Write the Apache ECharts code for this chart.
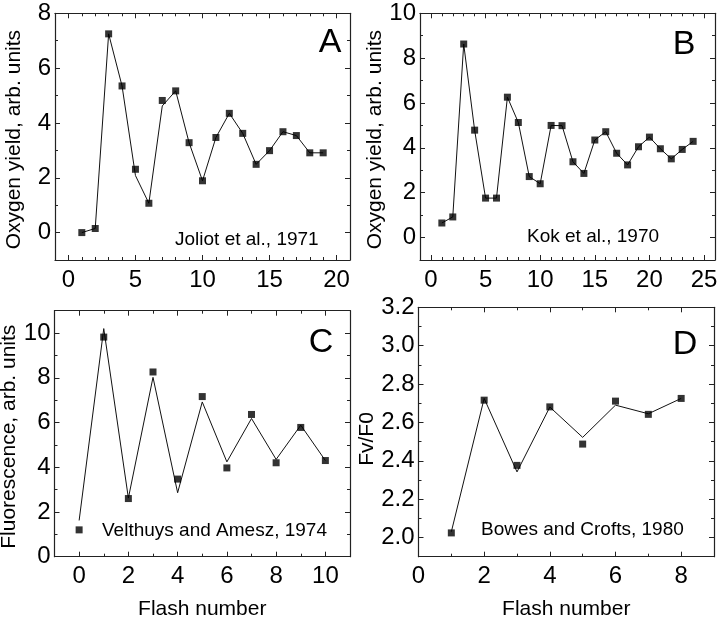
<!DOCTYPE html>
<html>
<head>
<meta charset="utf-8">
<script src="https://cdn.jsdelivr.net/npm/echarts@6/dist/echarts.min.js"></script>
<style>
html,body{margin:0;padding:0;background:#fff;}
#chart{width:720px;height:619px;}
</style>
</head>
<body>
<div id="chart"></div>
<script>
// ---------- Data ----------
const flashA = [1,2,3,4,5,6,7,8,9,10,11,12,13,14,15,16,17,18,19];
const markersA = [0.0,0.15,7.25,5.35,2.31,1.07,4.82,5.17,3.28,1.89,3.47,4.35,3.62,2.49,2.99,3.68,3.54,2.91,2.91];
const lineA = [0.0,0.15,7.25,5.35,2.08,1.07,4.62,5.17,3.28,1.89,3.47,4.35,3.62,2.49,2.99,3.68,3.54,2.91,2.91];

const flashB = [1,2,3,4,5,6,7,8,9,10,11,12,13,14,15,16,17,18,19,20,21,22,23,24];
const markersB = [0.65,0.92,8.63,4.79,1.76,1.76,6.26,5.13,2.72,2.40,5.0,4.99,3.38,2.86,4.35,4.72,3.76,3.24,4.05,4.48,3.96,3.51,3.93,4.29];
const lineB = markersB.slice();

const flashC = [0,1,2,3,4,5,6,7,8,9,10];
const markersC = [1.2,9.82,2.6,8.26,3.47,7.16,3.97,6.36,4.2,5.78,4.3];
const fitC = [1.62,10.2,2.62,8.02,2.86,6.92,4.24,6.18,4.35,5.88,4.3];

const flashD = [1,2,3,4,5,6,7,8];
const markersD = [2.024,2.716,2.376,2.681,2.487,2.711,2.642,2.725];
const fitD = [2.03,2.725,2.342,2.68,2.522,2.69,2.645,2.725];

const panelLetters = ['A','B','C','D'];
const refs = ['Joliot et al., 1971','Kok et al., 1970','Velthuys and Amesz, 1974','Bowes and Crofts, 1980'];
const yTitles = ['Oxygen yield, arb. units','Oxygen yield, arb. units','Fluorescence, arb. units','Fv/F0'];
const xTitle = 'Flash number';

// ---------- Layout ----------
const FONT = '"Liberation Sans", Arial, Helvetica, sans-serif';
const grids = [
  {left:55, top:13.3, width:295, height:246.7},
  {left:420, top:13.3, width:295, height:246.7},
  {left:54.5, top:310.7, width:295.5, height:246},
  {left:418.5, top:307.3, width:295.5, height:249.4}
];
const xRanges = [[-1,21,5],[-1,26,5],[-1,11,2],[0,9,2]];
const yRanges = [[-1,8,2,5],[-1,10,2,5],[0,11,2,5],[1.9,3.2,0.2,6]];
const xMinorSplit = [5,5,2,2];
const yMinorSplit = [2,2,2,2];
const yTitlePad = [6,6,6,14];

const xAxes = [], yAxes = [], series = [], graphics = [];
const lineStyleAxis = {color:'#222', width:1.2};

for (let i = 0; i < 4; i++) {
  const [xmin,xmax,xstep] = xRanges[i];
  const [ymin,ymax,ystep,ysplit] = yRanges[i];
  const common = {
    type:'value', gridIndex:i, splitLine:{show:false},
    axisLine:{show:true, onZero:false, lineStyle:lineStyleAxis},
    axisTick:{show:true, inside:true, length:5, lineStyle:{color:'#222', width:1}},
    minorTick:{show:true, length:3, lineStyle:{color:'#222', width:1}}
  };
  xAxes.push(Object.assign({}, common, {
    min:xmin, max:xmax, splitNumber:5, position:'bottom',
    minorTick:Object.assign({}, common.minorTick, {splitNumber:xMinorSplit[i]}),
    axisLabel:{show:true, color:'#000', fontSize:24, fontFamily:FONT, margin:8,
      formatter:function(v){ return (Math.abs(v % xstep) < 1e-9 && v >= 0) ? String(v) : ''; }},
    name: i >= 2 ? xTitle : '', nameLocation:'middle', nameGap:42,
    nameTextStyle:{color:'#000', fontSize:21, fontFamily:FONT}
  }));
  xAxes.push(Object.assign({}, common, {
    min:xmin, max:xmax, splitNumber:5, position:'top',
    minorTick:Object.assign({}, common.minorTick, {splitNumber:xMinorSplit[i]}),
    axisLabel:{show:false}
  }));
  yAxes.push(Object.assign({}, common, {
    min:ymin, max:ymax, splitNumber:ysplit, position:'left',
    minorTick:Object.assign({}, common.minorTick, {splitNumber:yMinorSplit[i]}),
    axisLabel:{show:true, color:'#000', fontSize:24, fontFamily:FONT, margin:4,
      formatter:function(v){
        if (i === 3) { const k = Math.round(v*10); return (k % 2 === 0 && v >= 1.99) ? v.toFixed(1) : ''; }
        return (Math.abs(v % ystep) < 1e-9 && v >= 0) ? String(v) : '';
      }},
    name: yTitles[i], nameLocation:'middle', nameGap: i===3 ? 38 : 30,
    nameTextStyle:{color:'#000', fontSize:21, fontFamily:FONT, padding:[0, yTitlePad[i], 0, 0]}
  }));
  yAxes.push(Object.assign({}, common, {
    min:ymin, max:ymax, splitNumber:ysplit, position:'right',
    minorTick:Object.assign({}, common.minorTick, {splitNumber:yMinorSplit[i]}),
    axisLabel:{show:false}
  }));
}

const panels = [
  {x:flashA, m:markersA, l:lineA},
  {x:flashB, m:markersB, l:lineB},
  {x:flashC, m:markersC, l:fitC},
  {x:flashD, m:markersD, l:fitD}
];
panels.forEach(function(p, i){
  series.push({
    type:'line', xAxisIndex:i*2, yAxisIndex:i*2,
    data:p.x.map(function(x,k){return [x,p.l[k]];}),
    showSymbol:false, symbol:'none', silent:true,
    lineStyle:{color:'#111', width:1}, z:2
  });
  series.push({
    type:'scatter', xAxisIndex:i*2, yAxisIndex:i*2,
    data:p.x.map(function(x,k){return [x,p.m[k]];}),
    symbol:'rect', symbolSize:7, itemStyle:{color:'#000'}, z:3
  });
});

const letterPos = [[330,43],[684,45],[321,343],[685,345]];
const refPos = [[175,240],[527,237],[102,531],[481,530]];
for (let i = 0; i < 4; i++) {
  graphics.push({type:'text', x:letterPos[i][0], y:letterPos[i][1],
    style:{text:panelLetters[i], fill:'#000', font:'34px ' + FONT, textAlign:'center', textVerticalAlign:'middle'}});
  graphics.push({type:'text', x:refPos[i][0], y:refPos[i][1],
    style:{text:refs[i], fill:'#000', font:'19px ' + FONT, textAlign:'left', textVerticalAlign:'middle'}});
}

const gridOpts = grids.map(function(g){ return Object.assign({containLabel:false, outerBoundsMode:'none'}, g); });

const chart = echarts.init(document.getElementById('chart'), null, {renderer:'canvas'});
chart.setOption({
  animation:false,
  backgroundColor:'#fff',
  grid:gridOpts,
  xAxis:xAxes,
  yAxis:yAxes,
  series:series,
  graphic:graphics
});
</script>
</body>
</html>
